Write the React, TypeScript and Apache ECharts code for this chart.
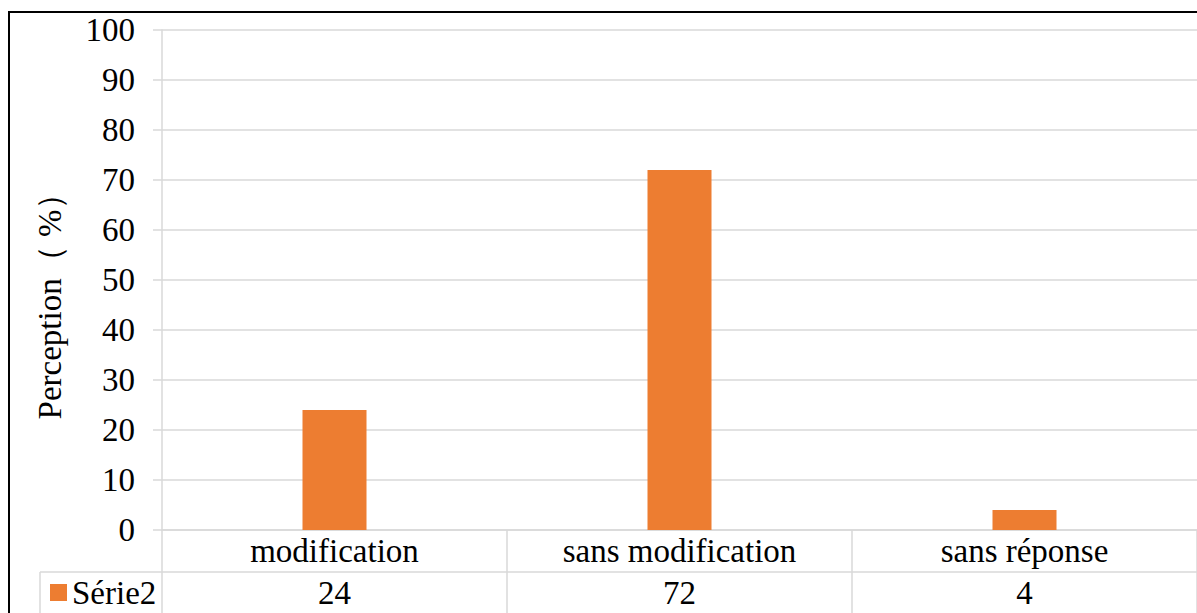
import React, { useEffect, useRef } from "react";
import * as echarts from "echarts";

// Survey results: perception of modification (%)
const categories = ["modification", "sans modification", "sans réponse"];
const seriesName = "Série2";
const values = [24, 72, 4];
const yTicks = { min: 0, max: 100, interval: 10 };
const yAxisName = "Perception（ %）";

const FONT = '"Liberation Serif", "Times New Roman", serif';
const FONT_SIZE = 33;
const GRID_COLOR = "#d9d9d9";
const BAR_COLOR = "#ED7D31";

export default function App() {
  const ref = useRef<HTMLDivElement>(null);

  useEffect(() => {
    if (!ref.current) return;
    const chart = echarts.init(ref.current, undefined, { renderer: "svg" });
    const text = { fontFamily: FONT, fontSize: FONT_SIZE, color: "#000" };
    chart.setOption({
      animation: false,
      backgroundColor: "#ffffff",
      grid: { left: 162, top: 30, width: 1039, height: 500, containLabel: false },
      legend: {
        data: [seriesName],
        left: 50,
        top: 576,
        icon: "rect",
        itemWidth: 17,
        itemHeight: 17,
        itemGap: 4,
        padding: 0,
        textStyle: text,
      },
      xAxis: [
        {
          type: "category",
          data: categories,
          boundaryGap: true,
          axisLine: { show: true, lineStyle: { color: GRID_COLOR, width: 1.5 } },
          axisTick: { show: true, interval: 0, length: 83, lineStyle: { color: GRID_COLOR, width: 1.5 } },
          axisLabel: { interval: 0, margin: 4, ...text },
        },
        {
          // data table row beneath the category labels
          type: "category",
          data: values.map((v) => String(v)),
          position: "bottom",
          offset: 46,
          boundaryGap: true,
          axisLine: { show: false },
          axisTick: { show: false },
          axisLabel: { interval: 0, margin: 0, ...text },
        },
      ],
      yAxis: {
        type: "value",
        min: yTicks.min,
        max: yTicks.max,
        interval: yTicks.interval,
        name: yAxisName,
        nameLocation: "middle",
        nameGap: 96,
        nameTextStyle: { ...text, padding: [0, 36, 0, 0] },
        axisLine: { show: true, lineStyle: { color: GRID_COLOR, width: 1.5 } },
        axisTick: { show: true, length: 9, lineStyle: { color: GRID_COLOR, width: 1.5 } },
        axisLabel: { margin: 27, ...text },
        splitLine: { show: true, lineStyle: { color: GRID_COLOR, width: 1.5 } },
      },
      series: [
        {
          name: seriesName,
          type: "bar",
          xAxisIndex: 0,
          data: values,
          barWidth: 64,
          itemStyle: { color: BAR_COLOR },
        },
      ],
      graphic: [
        {
          type: "rect",
          shape: { x: 9, y: 12, width: 1300, height: 800 },
          style: { fill: "none", stroke: "#000", lineWidth: 2 },
          silent: true,
        },
        {
          type: "line",
          shape: { x1: 40, y1: 572, x2: 1197, y2: 572 },
          style: { stroke: GRID_COLOR, lineWidth: 1.5 },
          silent: true,
        },
        {
          type: "line",
          shape: { x1: 40, y1: 572, x2: 40, y2: 613 },
          style: { stroke: GRID_COLOR, lineWidth: 1.5 },
          silent: true,
        },
      ],
    });
    return () => chart.dispose();
  }, []);

  return (
    <div
      ref={ref}
      style={{ position: "absolute", left: 0, top: 0, width: 1197, height: 613 }}
    />
  );
}
